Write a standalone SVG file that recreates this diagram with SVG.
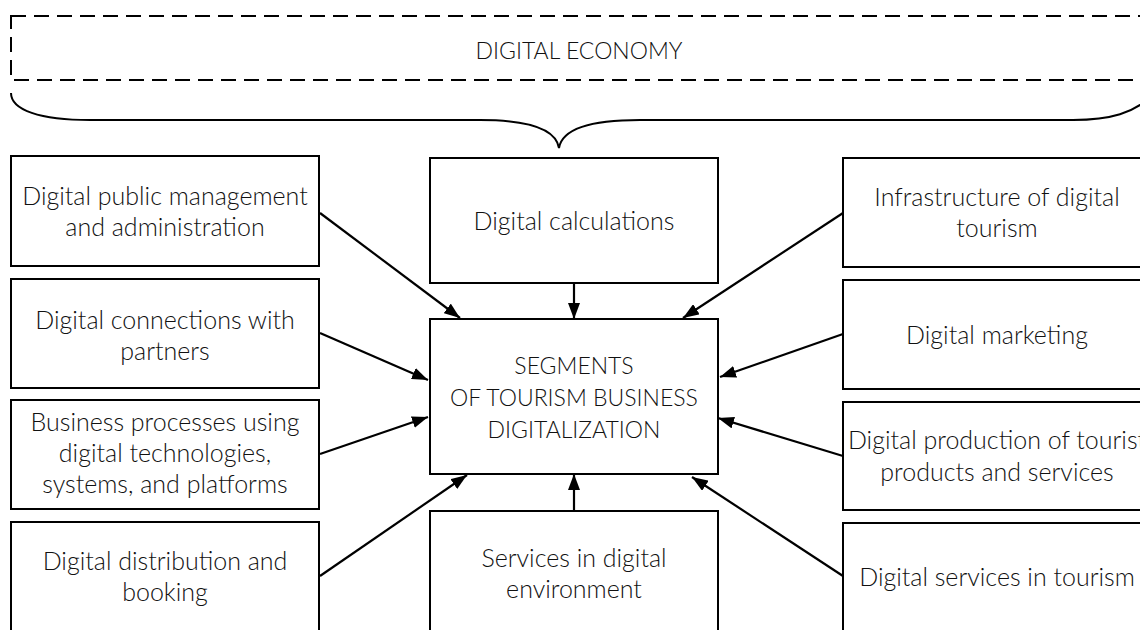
<svg xmlns="http://www.w3.org/2000/svg" width="1140" height="630" viewBox="0 0 1140 630">
<defs>
<style>
.box{fill:#fff;stroke:#000;stroke-width:2}
.t{font-family:Lato,"Open Sans","Liberation Sans",sans-serif;font-weight:300;font-size:25px;fill:#111;text-anchor:middle}
.c{font-size:23px}
.con{stroke:#000;stroke-width:2.2;fill:none;marker-end:url(#ah)}
</style>
<marker id="ah" viewBox="0 0 16 12" refX="16" refY="6" markerWidth="16" markerHeight="12" markerUnits="userSpaceOnUse" orient="auto">
<path d="M0,0 L16,6 L0,12 z" fill="#000"/>
</marker>
</defs>
<rect width="1140" height="630" fill="#fff"/>
<g id="economy">
<rect x="11" y="16" width="1150" height="64" fill="none" stroke="#000" stroke-width="2" stroke-dasharray="15 8"/>
<text class="t c" x="579" y="59">DIGITAL ECONOMY</text>
<path d="M11,93 C11,110 40,120 90,120 L480,120 C530,120 556,130 559,148 C562,130 588,120 640,120 L1073,120 C1110,120 1135,113 1152,95" fill="none" stroke="#000" stroke-width="2"/>
</g>
<g id="connectors">
<line class="con" x1="320" y1="213" x2="460" y2="318"/>
<line class="con" x1="320" y1="333" x2="428" y2="380"/>
<line class="con" x1="320" y1="454" x2="428" y2="417"/>
<line class="con" x1="320" y1="576" x2="467" y2="475"/>
<line class="con" x1="574" y1="283" x2="574" y2="319"/>
<line class="con" x1="574" y1="511" x2="574" y2="474"/>
<line class="con" x1="843" y1="213" x2="683" y2="318"/>
<line class="con" x1="843" y1="334" x2="720" y2="377"/>
<line class="con" x1="843" y1="456" x2="718" y2="418"/>
<line class="con" x1="843" y1="576" x2="692" y2="477"/>
</g>
<g id="n-public">
<rect class="box" x="11" y="156" width="308" height="110"/>
<text class="t" x="165" y="205">Digital public management</text>
<text class="t" x="165" y="236">and administration</text>
</g>
<g id="n-connections">
<rect class="box" x="11" y="279" width="308" height="109"/>
<text class="t" x="165" y="329">Digital connections with</text>
<text class="t" x="165" y="360">partners</text>
</g>
<g id="n-business">
<rect class="box" x="11" y="400" width="308" height="109"/>
<text class="t" x="165" y="431">Business processes using</text>
<text class="t" x="165" y="462">digital technologies,</text>
<text class="t" x="165" y="493">systems, and platforms</text>
</g>
<g id="n-distribution">
<rect class="box" x="11" y="522" width="308" height="120"/>
<text class="t" x="165" y="570">Digital distribution and</text>
<text class="t" x="165" y="601">booking</text>
</g>
<g id="n-calculations">
<rect class="box" x="430" y="158" width="288" height="125"/>
<text class="t" x="574" y="230">Digital calculations</text>
</g>
<g id="n-segments">
<rect class="box" x="430" y="319" width="288" height="155"/>
<text class="t c" x="574" y="374">SEGMENTS</text>
<text class="t c" x="574" y="406">OF TOURISM BUSINESS</text>
<text class="t c" x="574" y="438">DIGITALIZATION</text>
</g>
<g id="n-services-env">
<rect class="box" x="430" y="511" width="288" height="130"/>
<text class="t" x="574" y="567">Services in digital</text>
<text class="t" x="574" y="598">environment</text>
</g>
<g id="n-infrastructure">
<rect class="box" x="843" y="158" width="310" height="109"/>
<text class="t" x="997" y="206">Infrastructure of digital</text>
<text class="t" x="997" y="237">tourism</text>
</g>
<g id="n-marketing">
<rect class="box" x="843" y="280" width="310" height="109"/>
<text class="t" x="997" y="344">Digital marketing</text>
</g>
<g id="n-production">
<rect class="box" x="843" y="402" width="310" height="108"/>
<text class="t" x="997" y="449">Digital production of tourist</text>
<text class="t" x="997" y="481">products and services</text>
</g>
<g id="n-services-tourism">
<rect class="box" x="843" y="523" width="310" height="120"/>
<text class="t" x="997" y="586">Digital services in tourism</text>
</g>
</svg>
